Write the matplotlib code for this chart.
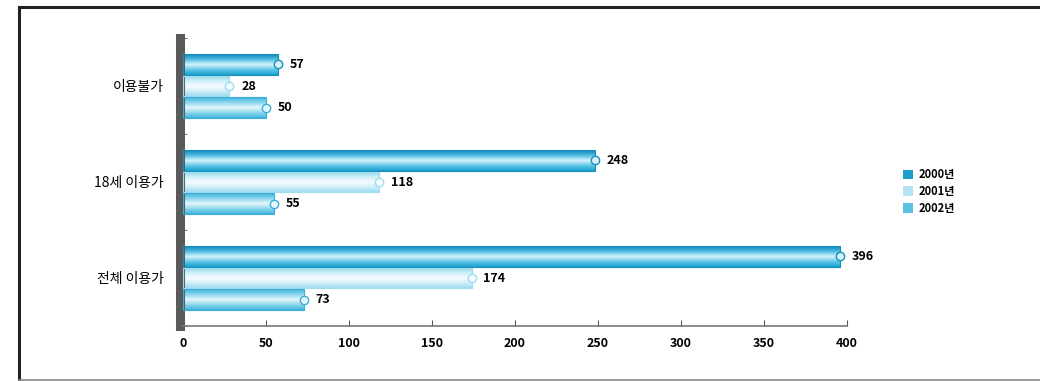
import numpy as np
import matplotlib
matplotlib.use("Agg")
import matplotlib.pyplot as plt
from matplotlib.colors import LinearSegmentedColormap
from matplotlib.lines import Line2D
from matplotlib.patches import Patch

plt.rcParams["font.family"] = ["Noto Sans CJK KR", "DejaVu Sans"]

# ---- data -----------------------------------------------------------
categories = ["이용불가", "18세 이용가", "전체 이용가"]
years = ["2000년", "2001년", "2002년"]
v2000 = [57, 248, 396]
v2001 = [28, 118, 174]
v2002 = [50, 55, 73]
xticks = [0, 50, 100, 150, 200, 250, 300, 350, 400]

# per-series gradient (edge -> centre -> edge), legend colour, outline
styles = [
    (["#0f88b8", "#4fbde0", "#d8f3fb", "#5cc6e6", "#1aa0cc"], "#1a9fcc", "#1590bd"),
    (["#8fd6ee", "#c9ecf7", "#f4fcff", "#d3f0f9", "#9fdcf0"], "#b4e3f3", "#9fdcf0"),
    (["#3fb3dc", "#8ad6ee", "#e4f7fc", "#8fd8ef", "#3fb3dc"], "#5cc0e0", "#3aaed8"),
]

W, H = 1040, 381
fig = plt.figure(figsize=(W / 100, H / 100), dpi=100)
ax = fig.add_axes([183 / W, 1 - 326 / H, (847 - 183) / W, (326 - 38) / H])

n = len(categories)
ypos = np.arange(n)
off = 0.225
bh = 0.215
series = [v2000, v2001, v2002]

for k, vals in enumerate(series):
    grad, _, edge = styles[k]
    cmap = LinearSegmentedColormap.from_list(f"s{k}", grad)
    bars = ax.barh(ypos + (k - 1) * off, vals, height=bh, color="none",
                   edgecolor=edge, lw=0.8, zorder=3)
    for b, v in zip(bars, vals):
        x0, y0 = b.get_x(), b.get_y()
        w, h = b.get_width(), b.get_height()
        g = np.linspace(0, 1, 64).reshape(-1, 1)
        im = ax.imshow(g, cmap=cmap, aspect="auto", extent=(x0, x0 + w, y0 + h, y0),
                       zorder=2, interpolation="bilinear")
        im.set_clip_path(b)
        # rounded end cap
        ax.plot([x0 + w], [y0 + h / 2], marker="o", ms=6, mfc=grad[2],
                mec=edge, mew=1.0, zorder=4)
        ax.text(v + 7, y0 + h / 2, f"{v}", va="center", ha="left",
                fontsize=9, fontweight="bold", color="black", zorder=5)

ax.set_xlim(0, 400)
ax.set_ylim(n - 0.5, -0.5)
ax.set_xticks(xticks)
ax.set_xticklabels([str(t) for t in xticks], fontsize=9, fontweight="bold")
ax.set_yticks(np.arange(n + 1) - 0.5, minor=True)
ax.set_yticks(ypos)
ax.set_yticklabels(categories, fontsize=9.5, fontweight="bold")
ax.tick_params(axis="y", which="major", length=0, pad=12)
ax.tick_params(axis="y", which="minor", length=5, direction="in", color="#555555")
ax.tick_params(axis="x", length=4, direction="in", color="#555555", pad=8)

for s in ["top", "right"]:
    ax.spines[s].set_visible(False)
ax.spines["left"].set_linewidth(6.5)
ax.spines["left"].set_color("#5a5a5a")
ax.spines["left"].set_position(("outward", 2))
ax.spines["bottom"].set_linewidth(1.2)
ax.spines["bottom"].set_color("#777777")
ax.spines["bottom"].set_linestyle((0, (1, 1)))

handles = [Patch(facecolor=styles[k][1], edgecolor="none") for k in range(3)]
fig.legend(handles, years, loc="upper left", bbox_to_anchor=(893 / W, 1 - 158 / H),
           frameon=False, handlelength=0.9, handleheight=0.9,
           handletextpad=0.5, labelspacing=0.35, prop={"weight": "bold", "size": 8})

# outer frame
fig.add_artist(Line2D([19 / W, 1], [1 - 7 / H, 1 - 7 / H], color="#222222", lw=2.2))
fig.add_artist(Line2D([19 / W, 19 / W], [0, 1 - 7 / H], color="#222222", lw=2.2))
fig.add_artist(Line2D([19 / W, 1], [1.5 / H, 1.5 / H], color="#888888", lw=1.2))

fig.savefig("out.png", dpi=100)
